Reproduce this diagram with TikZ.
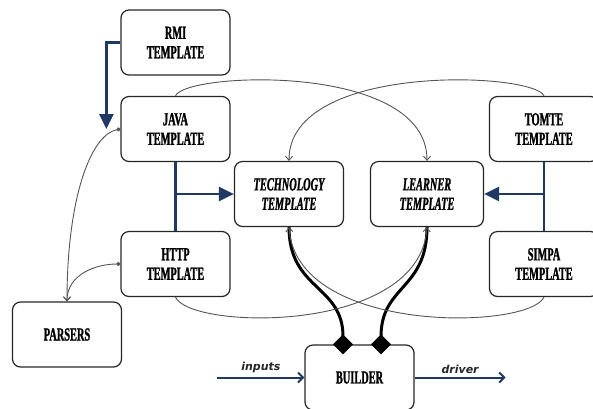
\documentclass[tikz,border=0pt]{standalone}
\usepackage{fontspec}
\usetikzlibrary{arrows.meta}
\usepackage{xcolor}
\newfontfamily\boxfont[FakeStretch=0.56,
    BoldFont={Liberation Serif Bold}, BoldItalicFont={Liberation Serif Bold Italic},
    BoldFeatures={FakeBold=1.2}, BoldItalicFeatures={FakeBold=1.2}]{Liberation Serif}
\newfontfamily\labfont{DejaVu Sans}
\definecolor{navy}{RGB}{31,56,100}
\definecolor{wire}{RGB}{85,85,85}
\tikzset{
    tmpl/.style={draw=black!85, line width=1.2pt, rounded corners=8pt,
        minimum width=109pt, minimum height=65pt, align=center,
        font=\boxfont\bfseries\fontsize{18.5}{19.5}\selectfont},
    tmplit/.style={tmpl, font=\boxfont\bfseries\itshape\fontsize{18.5}{19.5}\selectfont},
    aggr/.style={black, line width=3pt, {Diamond[length=20pt,width=20pt]}-},
    flow/.style={navy, line width=2pt, -{Straight Barb[length=5pt,width=10pt]}},
    flowlabel/.style={text=black!85, font=\labfont\bfseries\itshape\fontsize{11}{13}\selectfont}
}
\newcommand{\tmplbox}[5][tmpl] {
    \node[#1] (#2) at (#3, #4) {#5};
}

\begin{document}
\begin{tikzpicture}[x=1pt,y=-1pt]
        \useasboundingbox (0,0) rectangle (593,408);
        \tmplbox{rmi}{175.5}{42.5}{RMI\\TEMPLATE}
        \tmplbox{java}{175.5}{129}{JAVA\\TEMPLATE}
        \tmplbox{http}{175.5}{264}{HTTP\\TEMPLATE}
        \tmplbox{parsers}{67}{334.5}{PARSERS}
        \tmplbox[tmplit]{tech}{289}{194}{TECHNOLOGY\\TEMPLATE}
        \tmplbox[tmplit,minimum width=113pt]{learner}{427}{194}{LEARNER\\TEMPLATE}
        \tmplbox{tomte}{544}{129}{TOMTE\\TEMPLATE}
        \tmplbox{simpa}{544}{264}{SIMPA\\TEMPLATE}
        \tmplbox{builder}{359.5}{377.5}{BUILDER}

        % template inheritance
        \coordinate (rj) at ([xshift=-14pt]java.west);
        \begin{scope}[every path/.style={navy, line width=2.6pt}]
            \draw[-{Triangle[length=15pt,width=14pt]}] (rmi.west) -| (rj);
            \draw (java.south) -- (http.north);
            \draw[-{Triangle[length=15pt,width=14pt]}] (java.south |- tech.west) -- (tech.west);
            \draw (tomte.south) -- (simpa.north);
            \draw[-{Triangle[length=15pt,width=14pt]}] (tomte.south |- learner.east) -- (learner.east);
        \end{scope}

        % builder parts
        \coordinate (dl) at ([xshift=-16.5pt,yshift=-10pt]builder.north);
        \coordinate (dr) at ([xshift=21.5pt,yshift=-10pt]builder.north);
        \draw[aggr] (dl) .. controls (343,285) and (289,290) .. (tech.south);
        \draw[aggr] (dr) .. controls (381,285) and (427,290) .. (learner.south);

        % uses
        \begin{scope}[every path/.style={
                draw=wire, line width=0.9pt,
                -{Straight Barb[length=4pt,width=7pt]}
            }]
            \draw (java.north) .. controls (185,72) and (427,62) .. (learner.north);
            \draw (tomte.north) .. controls (534,72) and (289,62) .. (tech.north);
            \draw[{Circle[length=4pt]}-{Straight Barb[length=4pt,width=7pt]}] (java.west) .. controls (90,135) and (67,200) .. (parsers.north);
            \draw[{Circle[length=4pt]}-{Straight Barb[length=4pt,width=7pt]}] (http.west) .. controls (95,264) and (67,275) .. (parsers.north);
            \draw (http.south) .. controls (190,330) and (420,335) .. (learner.south);
            \draw (simpa.south) .. controls (529,330) and (296,335) .. (tech.south);
        \end{scope}

        % in and out
        \coordinate (src) at ([xshift=-87pt]builder.west);
        \coordinate (dst) at ([xshift=91pt]builder.east);
        \draw[flow] (src) -- node[above, flowlabel] {inputs} (builder.west);
        \draw[flow] (builder.east) -- node[above, flowlabel] {driver} (dst);
    \end{tikzpicture}
\end{document}
